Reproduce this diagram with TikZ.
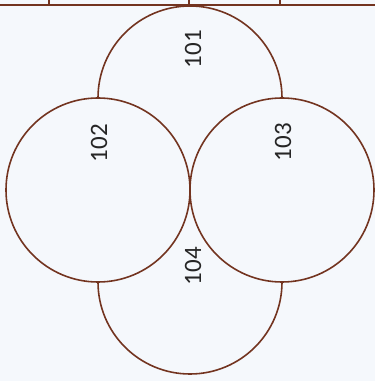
\documentclass[tikz,border=0pt]{standalone}
\usepackage{fontspec}
\newfontfamily\labelfont{Carlito}
\definecolor{rim}{RGB}{115,52,32}
\definecolor{paper}{RGB}{245,248,252}
\tikzset{
  rim/.style = {draw = rim, line width = 1.6pt},
  roomlabel/.style = {rotate = 90, text = black!85, font = \labelfont\fontsize{25}{25}\selectfont}
}
\begin{document}
\begin{tikzpicture} [x = 1pt, y = 1pt]
	\useasboundingbox [fill = paper] (0,0) rectangle (375,381);
	% strip along the top edge
	\draw [rim] (0,376) -- (375,376);
	\draw [rim] (49,376) -- (49,381);
	\draw [rim] (189,376) -- (189,381);
	\draw [rim] (280,376) -- (280,381);
	% the four tables
	\draw [rim] (98,283) arc (180:0:92);
	\draw [rim] (98,99) arc (180:360:92);
	\draw [rim] (98,191) circle (92);
	\draw [rim] (282,191) circle (92);
	\draw (193,332) node [roomlabel] (t101) {101};
	\draw (99,238) node [roomlabel] (t102) {102};
	\draw (283,239) node [roomlabel] (t103) {103};
	\draw (193,115) node [roomlabel] (t104) {104};
\end{tikzpicture}
\end{document}
